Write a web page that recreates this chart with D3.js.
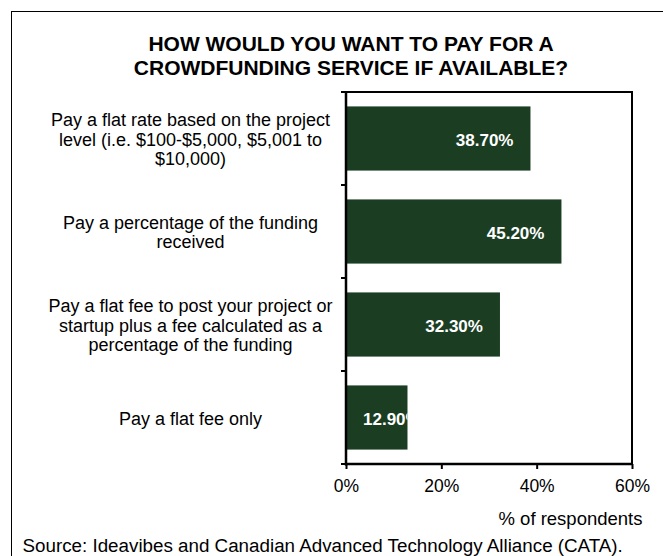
<!DOCTYPE html>
<html>
<head>
<meta charset="utf-8">
<script src="https://cdn.jsdelivr.net/npm/d3@7/dist/d3.min.js"></script>
<style>
  body { margin: 0; background: #fff; }
  svg { display: block; }
  text { font-family: Arial, "Liberation Sans", sans-serif; }
</style>
</head>
<body>
<svg id="chart" width="663" height="556"></svg>
<script>
// Survey answers (one array of wrapped lines per answer)
const categories = [
  ["Pay a flat rate based on the project", "level (i.e. $100-$5,000, $5,001 to", "$10,000)"],
  ["Pay a percentage of the funding", "received"],
  ["Pay a flat fee to post your project or", "startup plus a fee calculated as a", "percentage of the funding"],
  ["Pay a flat fee only"]
];
const values = [38.7, 45.2, 32.3, 12.9];
const valueLabels = ["38.70%", "45.20%", "32.30%", "12.90%"];
const xTicks = [0, 20, 40, 60];
const titleLines = ["HOW WOULD YOU WANT TO PAY FOR A", "CROWDFUNDING SERVICE IF AVAILABLE?"];
const axisTitle = "% of respondents";
const sourceNote = "Source: Ideavibes and Canadian Advanced Technology Alliance (CATA).";

const barColor = "#1b3e23";
const svg = d3.select("#chart");

// outer frame (open at right and bottom edges of the canvas)
svg.append("rect")
  .attr("x", 11.5).attr("y", 11.5)
  .attr("width", 700).attr("height", 600)
  .attr("fill", "none").attr("stroke", "#000").attr("stroke-width", 1);

// title
svg.append("g").selectAll("text").data(titleLines).join("text")
  .attr("x", 351)
  .attr("y", (d, i) => 51 + i * 24)
  .attr("text-anchor", "middle")
  .attr("font-weight", "bold")
  .attr("font-size", 21)
  .attr("fill", "#000")
  .text(d => d);

const keys = categories.map((c, i) => "c" + i);
const x = d3.scaleLinear().domain([0, 60]).range([346, 632]);
const y = d3.scaleBand().domain(keys).range([92, 464]).paddingInner(0.31).paddingOuter(0.155);
const step = y.step();

// bars
const defs = svg.append("defs");
keys.forEach((k, i) => {
  defs.append("clipPath").attr("id", "clip-" + k)
    .append("rect")
    .attr("x", x(0)).attr("y", y(k))
    .attr("width", x(values[i]) - x(0)).attr("height", y.bandwidth());
});

svg.append("g").selectAll("rect").data(values).join("rect")
  .attr("x", x(0))
  .attr("y", (d, i) => y(keys[i]))
  .attr("width", d => x(d) - x(0))
  .attr("height", y.bandwidth())
  .attr("fill", barColor);

// value labels inside the bars, clipped to the bar
const pad = 17;
const vl = svg.append("g").selectAll("text").data(values).join("text")
  .attr("clip-path", (d, i) => "url(#clip-" + keys[i] + ")")
  .attr("y", (d, i) => y(keys[i]) + y.bandwidth() / 2 + 7)
  .attr("font-weight", "bold")
  .attr("font-size", 17)
  .attr("fill", "#fff")
  .text((d, i) => valueLabels[i]);
vl.each(function(d) {
  const w = this.getComputedTextLength();
  const fits = w + 2 * pad <= x(d) - x(0);
  d3.select(this)
    .attr("text-anchor", fits ? "end" : "start")
    .attr("x", fits ? x(d) - pad : x(0) + pad);
});

// category labels
const lineH = 19.5;
const lab = svg.append("g");
categories.forEach((lines, i) => {
  const cy = y(keys[i]) + y.bandwidth() / 2;
  lab.append("text")
    .attr("text-anchor", "middle")
    .attr("font-size", 18)
    .attr("fill", "#000")
    .selectAll("tspan").data(lines).join("tspan")
    .attr("x", 190.5)
    .attr("y", (d, j) => cy + (j - (lines.length - 1) / 2) * lineH + 7)
    .text(d => d);
});

// plot frame: top and right edges
const frame = svg.append("g").attr("stroke", "#000").attr("stroke-width", 2);
frame.append("line").attr("x1", x(0)).attr("x2", x(60) + 1).attr("y1", 92).attr("y2", 92);
frame.append("line").attr("x1", x(60)).attr("x2", x(60)).attr("y1", 92).attr("y2", 464);

// category axis: ticks at band boundaries
const yAxis = svg.append("g").attr("stroke", "#000");
yAxis.append("line").attr("x1", x(0)).attr("x2", x(0)).attr("y1", 91).attr("y2", 465.5).attr("stroke-width", 2.5);
const bounds = keys.map(k => y(k) - (step - y.bandwidth()) / 2).concat([464]);
yAxis.selectAll("line.tick").data(bounds).join("line")
  .attr("class", "tick")
  .attr("x1", x(0) - 5).attr("x2", x(0))
  .attr("y1", d => d).attr("y2", d => d)
  .attr("stroke-width", 2);

// value axis
const xAxis = svg.append("g").attr("transform", "translate(0,464)")
  .call(d3.axisBottom(x).tickValues(xTicks).tickSize(5).tickFormat(d => d + "%"));
xAxis.select(".domain").attr("stroke", "#000").attr("stroke-width", 2.5).attr("d", `M${x(0) - 1},0H${x(60) + 1}`);
xAxis.selectAll(".tick line").attr("stroke", "#000").attr("stroke-width", 2);
xAxis.selectAll(".tick text")
  .attr("y", 27.7).attr("dy", null)
  .attr("font-size", 17.5)
  .attr("font-family", "Arial, 'Liberation Sans', sans-serif")
  .attr("fill", "#000");

// axis title
svg.append("text")
  .attr("x", 642.5).attr("y", 525)
  .attr("text-anchor", "end")
  .attr("font-size", 18.5)
  .attr("fill", "#000")
  .text(axisTitle);

// source note
svg.append("text")
  .attr("x", 22.5).attr("y", 552)
  .attr("font-size", 18.8)
  .attr("fill", "#000")
  .text(sourceNote);
</script>
</body>
</html>
